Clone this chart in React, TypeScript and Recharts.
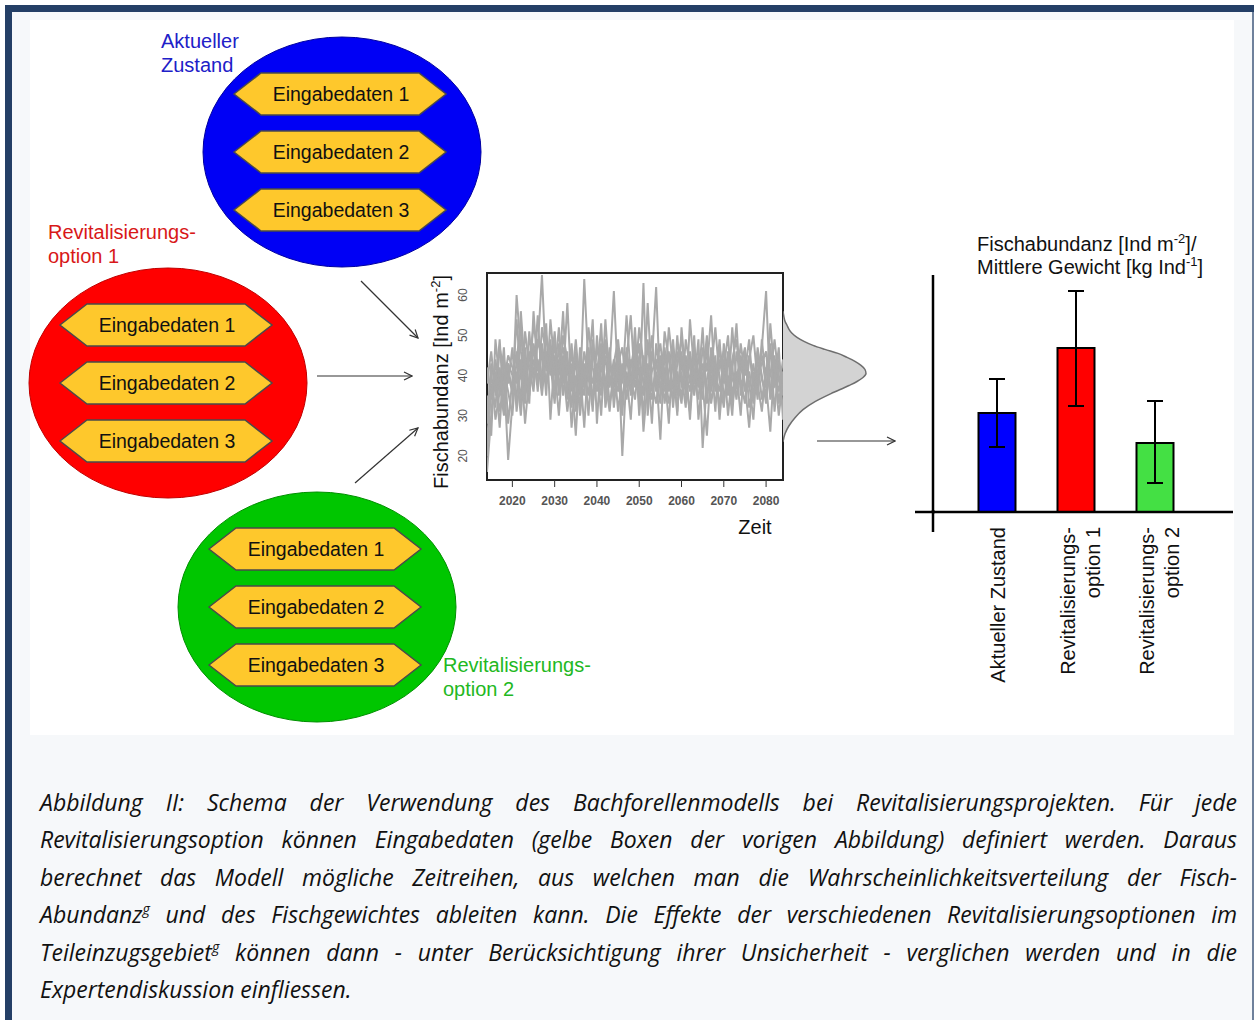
import React from "react"
import {
  Area,
  AreaChart,
  Bar,
  BarChart,
  Cell,
  ErrorBar,
  Line,
  LineChart,
  ReferenceArea,
  XAxis,
  YAxis,
} from "recharts"

// simulated time series (yearly)
const years = [
  2014, 2015, 2016, 2017, 2018, 2019, 2020, 2021, 2022, 2023,
  2024, 2025, 2026, 2027, 2028, 2029, 2030, 2031, 2032, 2033,
  2034, 2035, 2036, 2037, 2038, 2039, 2040, 2041, 2042, 2043,
  2044, 2045, 2046, 2047, 2048, 2049, 2050, 2051, 2052, 2053,
  2054, 2055, 2056, 2057, 2058, 2059, 2060, 2061, 2062, 2063,
  2064, 2065, 2066, 2067, 2068, 2069, 2070, 2071, 2072, 2073,
  2074, 2075, 2076, 2077, 2078, 2079, 2080, 2081, 2082, 2083,
  2084,
]
const yearTicks = [2020, 2030, 2040, 2050, 2060, 2070, 2080]
const abundanceTicks = [20, 30, 40, 50, 60]

const run1 = [
  16, 30, 44, 35, 41, 19, 33, 60, 46, 38,
  44, 52, 47, 65, 41, 49, 36, 44, 38, 46,
  27, 40, 35, 64, 42, 31, 50, 37, 45, 33,
  39, 47, 20, 41, 36, 52, 33, 63, 30, 44,
  62, 35, 41, 28, 47, 39, 33, 45, 38, 50,
  29, 40, 46, 36, 43, 31, 48, 37, 42, 34,
  45, 38, 27, 41, 36, 47, 61, 35, 42, 30,
  39,
]
const run2 = [
  28, 43, 37, 49, 31, 42, 36, 54, 39, 47,
  35, 48, 42, 39, 53, 29, 45, 40, 56, 34,
  43, 31, 47, 38, 41, 54, 28, 46, 35, 42,
  61, 38, 33, 44, 55, 37, 42, 30, 49, 36,
  41, 24, 46, 39, 34, 50, 37, 43, 29, 45,
  38, 52, 33, 47, 40, 36, 44, 30, 41, 53,
  35, 43, 38, 29, 46, 40, 33, 47, 37, 44,
  36,
]
const run3 = [
  20, 38, 32, 47, 41, 36, 30, 44, 53, 33,
  46, 40, 55, 37, 50, 43, 33, 48, 39, 58,
  36, 44, 30, 41, 35, 49, 38, 53, 32, 40,
  37, 45, 34, 40, 29, 46, 41, 35, 58, 38,
  33, 42, 47, 36, 44, 30, 52, 39, 46, 35,
  45, 38, 25, 43, 37, 49, 34, 40, 30, 46,
  39, 33, 44, 50, 38, 31, 42, 36, 45, 33,
  41,
]
const run4 = [
  35, 25, 49, 38, 30, 43, 40, 34, 56, 41,
  37, 44, 39, 48, 35, 54, 42, 30, 45, 36,
  48, 33, 42, 27, 45, 38, 43, 30, 49, 37,
  44, 31, 40, 46, 35, 42, 48, 26, 39, 50,
  36, 45, 33, 41, 49, 35, 43, 38, 31, 47,
  40, 34, 48, 38, 45, 29, 42, 50, 35, 41,
  30, 46, 37, 43, 34, 49, 38, 26, 44, 40,
  35,
]
const run5 = [
  30, 41, 29, 36, 47, 28, 39, 46, 33, 51,
  42, 36, 49, 44, 38, 47, 40, 52, 35, 43,
  32, 46, 39, 35, 52, 42, 36, 45, 39, 31,
  43, 49, 38, 55, 40, 34, 45, 38, 43, 28,
  48, 40, 36, 52, 42, 31, 46, 35, 44, 39,
  34, 47, 41, 55, 36, 44, 38, 46, 33, 40,
  43, 36, 41, 33, 47, 39, 35, 53, 40, 36,
  44,
]
const run6 = [
  42, 34, 40, 27, 44, 38, 47, 31, 42, 36,
  51, 38, 44, 35, 46, 40, 51, 37, 42, 31,
  40, 25, 44, 37, 47, 33, 41, 48, 36, 44,
  35, 41, 30, 47, 38, 44, 36, 42, 33, 46,
  39, 33, 51, 44, 37, 41, 34, 49, 42, 38,
  49, 22, 39, 45, 31, 47, 40, 35, 52, 38,
  42, 47, 32, 38, 44, 34, 41, 48, 31, 43,
  38,
]
const run7 = [
  38, 46, 35, 42, 33, 40, 36, 41, 30, 44,
  33, 56, 41, 46, 38, 45, 37, 43, 47, 40,
  45, 38, 33, 43, 30, 46, 40, 35, 54, 38,
  41, 36, 43, 34, 44, 39, 52, 43, 36, 41,
  44, 37, 42, 33, 38, 46, 40, 32, 54, 41,
  37, 43, 35, 41, 52, 39, 32, 44, 39, 37,
  48, 40, 45, 39, 41, 45, 37, 40, 49, 39,
  32,
]
const run8 = [
  24, 36, 41, 31, 38, 45, 42, 38, 44, 28,
  40, 47, 36, 52, 45, 41, 48, 35, 50, 44,
  38, 49, 36, 46, 39, 35, 47, 42, 37, 47,
  32, 43, 47, 37, 42, 48, 30, 45, 40, 34,
  42, 48, 38, 46, 32, 43, 49, 41, 36, 44,
  41, 39, 50, 33, 40, 42, 46, 37, 44, 49,
  37, 41, 49, 35, 40, 43, 46, 34, 38, 47,
  29,
]
const runs = [run1, run2, run3, run4, run5, run6, run7, run8]

// distribution of the abundance
const densityLevels = [23.5, 25, 26, 27, 28, 29, 30, 31, 32, 33, 34, 35, 36, 37, 38, 39, 40, 41, 42, 44, 46, 48, 50, 52, 54, 56]
const densityWidths = [0, 1, 2, 4, 6, 9, 14, 21, 30, 42, 55, 64, 72, 78, 82, 83, 80, 74, 66, 48, 32, 20, 12, 6, 2, 0]

// comparison of the options
const barCategories = ["Aktueller Zustand", "Revitalisierungs- option 1", "Revitalisierungs- option 2"]
const barCategoryLines = [["Aktueller Zustand"], ["Revitalisierungs-", "option 1"], ["Revitalisierungs-", "option 2"]]
const barMeans = [9.9, 16.4, 6.9]
const barErrLow = [3.4, 5.8, 4.0]
const barErrHigh = [3.4, 5.7, 4.2]
const barColors = ["#0000ff", "#ff0000", "#44e044"]

const hexLabels = ["Eingabedaten 1", "Eingabedaten 2", "Eingabedaten 3"]

const timeRows = years.map((year, i) => {
  const row: Record<string, number> = { year }
  runs.forEach((r, k) => {
    row[`run${k + 1}`] = r[i]
  })
  return row
})
const densityRows = densityLevels.map((v, i) => ({ v, w: densityWidths[i] }))
const barRows = barCategories.map((name, i) => ({
  name,
  value: barMeans[i],
  err: [barErrLow[i], barErrHigh[i]],
}))

const ARIAL = "'Liberation Sans', Arial, sans-serif"

const options = [
  { cx: 342, cy: 152, fill: "#0000f5", edge: "#0000a0", name: ["Aktueller", "Zustand"], color: "#2020c8", lx: 161, ly: 48 },
  { cx: 168, cy: 383, fill: "#ff0000", edge: "#c00000", name: ["Revitalisierungs-", "option 1"], color: "#d81818", lx: 48, ly: 239 },
  { cx: 317, cy: 607, fill: "#00c600", edge: "#009000", name: ["Revitalisierungs-", "option 2"], color: "#22b822", lx: 443, ly: 672 },
]

const Hexagon = ({ cx, cy, label }: { cx: number; cy: number; label: string }) => {
  const w = 106
  const h = 21
  const k = 27
  const pts = [
    [cx - w, cy],
    [cx - w + k, cy - h],
    [cx + w - k, cy - h],
    [cx + w, cy],
    [cx + w - k, cy + h],
    [cx - w + k, cy + h],
  ]
    .map((p) => p.join(","))
    .join(" ")
  return (
    <g>
      <polygon points={pts} fill="#fec82c" stroke="#4a4a4a" strokeWidth={1.5} />
      <text x={cx + 1} y={cy + 7} textAnchor="middle" fontSize={19.5} fontFamily={ARIAL} fill="#111">
        {label}
      </text>
    </g>
  )
}

const Diagram = () => (
  <svg width={1254} height={1020} style={{ position: "absolute", left: 0, top: 0 }}>
    <defs>
      <marker id="head" markerWidth={10} markerHeight={10} refX={9} refY={5} orient="auto" markerUnits="userSpaceOnUse">
        <path d="M1,1 L9,5 L1,9" fill="none" stroke="#333" strokeWidth={1.2} />
      </marker>
    </defs>
    {options.map((o, i) => (
      <g key={i}>
        <ellipse cx={o.cx} cy={o.cy} rx={139} ry={115} fill={o.fill} stroke={o.edge} strokeWidth={1} />
        {hexLabels.map((l, j) => (
          <Hexagon key={l} cx={o.cx - 2} cy={o.cy + (j - 1) * 58} label={l} />
        ))}
        {o.name.map((t, j) => (
          <text key={t} x={o.lx} y={o.ly + j * 24} fontSize={20} fontFamily={ARIAL} fill={o.color}>
            {t}
          </text>
        ))}
      </g>
    ))}
    <g stroke="#333" strokeWidth={1.2}>
      <line x1={361} y1={281} x2={418} y2={338} markerEnd="url(#head)" />
      <line x1={317} y1={376} x2={412} y2={376} markerEnd="url(#head)" />
      <line x1={355} y1={483} x2={418} y2={428} markerEnd="url(#head)" />
      <line x1={817} y1={441} x2={895} y2={441} markerEnd="url(#head)" />
    </g>
    <text
      transform="translate(448,382) rotate(-90)"
      textAnchor="middle"
      fontSize={20}
      fontFamily={ARIAL}
      fill="#111"
    >
      Fischabundanz [Ind m<tspan dy={-8} fontSize={13}>-2</tspan>
      <tspan dy={8}>]</tspan>
    </text>
    <text x={755} y={534} textAnchor="middle" fontSize={20} fontFamily={ARIAL} fill="#111">
      Zeit
    </text>
    <text x={977} y={251} fontSize={20} fontFamily={ARIAL} fill="#111">
      Fischabundanz [Ind m<tspan dy={-8} fontSize={13}>-2</tspan>
      <tspan dy={8}>]/</tspan>
    </text>
    <text x={977} y={274} fontSize={20} fontFamily={ARIAL} fill="#111">
      Mittlere Gewicht [kg Ind<tspan dy={-8} fontSize={13}>-1</tspan>
      <tspan dy={8}>]</tspan>
    </text>
    <line x1={933} y1={510} x2={933} y2={532} stroke="#000" strokeWidth={2.5} />
    <line x1={915} y1={512} x2={935} y2={512} stroke="#000" strokeWidth={2.5} />
  </svg>
)

// chart-local coordinates (time series chart sits at left 420)
const AbundanceTick = (props: any) => {
  const { y, payload } = props
  return (
    <text
      transform={`translate(47,${y}) rotate(-90)`}
      textAnchor="middle"
      fontSize={12}
      fontFamily={ARIAL}
      fill="#555"
      x={0}
      y={0}
    >
      {payload.value}
    </text>
  )
}

// chart-local coordinates (bar chart sits at top 265)
const CategoryTick = (props: any) => {
  const { x, payload, index } = props
  const idx = typeof index === "number" ? index : barCategories.indexOf(payload.value)
  const lines = barCategoryLines[idx] || [payload.value]
  const offsets = lines.length === 1 ? [8] : [-1, 24]
  return (
    <g transform={`translate(${x},262) rotate(-90)`}>
      {lines.map((l, i) => (
        <text key={l} x={0} y={offsets[i]} textAnchor="end" fontSize={20} fontFamily={ARIAL} fill="#111">
          {l}
        </text>
      ))}
    </g>
  )
}

const TimeSeries = () => (
  <div style={{ position: "absolute", left: 420, top: 262 }}>
    <LineChart width={380} height={285} data={timeRows} margin={{ top: 11, right: 17, bottom: 37, left: 0 }}>
      <XAxis
        dataKey="year"
        type="number"
        domain={[2014, 2084]}
        ticks={yearTicks}
        axisLine={false}
        tickLine={{ stroke: "#333" }}
        tickSize={7}
        tickMargin={9}
        height={30}
        tick={{ fontSize: 12, fontWeight: "bold", fill: "#555", fontFamily: ARIAL }}
        allowDataOverflow
      />
      <YAxis
        type="number"
        domain={[14, 65.5]}
        ticks={abundanceTicks}
        width={67}
        axisLine={false}
        tickLine={false}
        tick={<AbundanceTick />}
        allowDataOverflow
      />
      {runs.map((_, k) => (
        <Line
          key={k}
          dataKey={`run${k + 1}`}
          stroke="#a9a9a9"
          strokeWidth={2}
          dot={false}
          isAnimationActive={false}
        />
      ))}
      <ReferenceArea x1={2014} x2={2084} y1={14} y2={65.5} fill="none" stroke="#222" strokeWidth={2} ifOverflow="visible" />
    </LineChart>
  </div>
)

const Density = () => (
  <div style={{ position: "absolute", left: 783, top: 273 }}>
    <AreaChart layout="vertical" width={100} height={207} data={densityRows} margin={{ top: 0, right: 0, bottom: 0, left: 0 }}>
      <XAxis type="number" domain={[0, 100]} hide />
      <YAxis type="number" dataKey="v" domain={[14, 65.5]} hide />
      <Area dataKey="w" type="monotone" fill="#d3d3d3" fillOpacity={1} stroke="#6e6e6e" strokeWidth={1.5} isAnimationActive={false} />
    </AreaChart>
  </div>
)

const Comparison = () => (
  <div style={{ position: "absolute", left: 900, top: 265 }}>
    <BarChart width={340} height={430} data={barRows} margin={{ top: 10, right: 7, bottom: 8, left: 32 }}>
      <XAxis
        dataKey="name"
        padding={{ left: 24.5, right: 38.5 }}
        axisLine={{ stroke: "#000", strokeWidth: 2.5 }}
        tickLine={false}
        height={175}
        interval={0}
        tick={<CategoryTick />}
      />
      <YAxis domain={[0, 23.7]} width={1} tick={false} tickLine={false} axisLine={{ stroke: "#000", strokeWidth: 2.5 }} />
      <Bar dataKey="value" barSize={37} stroke="#000" strokeWidth={2} isAnimationActive={false}>
        {barRows.map((_, i) => (
          <Cell key={i} fill={barColors[i]} />
        ))}
        <ErrorBar dataKey="err" width={8} stroke="#000" strokeWidth={2} direction="y" />
      </Bar>
    </BarChart>
  </div>
)

const captionLines = [
  "Abbildung II: Schema der Verwendung des Bachforellenmodells bei Revitalisierungsprojekten. Für jede",
  "Revitalisierungsoption können Eingabedaten (gelbe Boxen der vorigen Abbildung) definiert werden. Daraus",
  "berechnet das Modell mögliche Zeitreihen, aus welchen man die Wahrscheinlichkeitsverteilung der Fisch-",
]

const Caption = () => {
  const lineStyle: React.CSSProperties = {
    height: 37.4,
    lineHeight: "37.4px",
    textAlign: "justify",
    textAlignLast: "justify",
    whiteSpace: "nowrap",
  }
  const sup = { fontSize: "0.62em", verticalAlign: "0.6em", lineHeight: 0 }
  return (
    <div
      style={{
        position: "absolute",
        left: 40,
        top: 784,
        width: 1197,
        fontFamily: "'Open Sans', sans-serif",
        fontStyle: "italic",
        fontSize: 23,
        color: "#111",
      }}
    >
      {captionLines.map((l) => (
        <div key={l} style={lineStyle}>
          {l}
        </div>
      ))}
      <div style={lineStyle}>
        Abundanz<span style={sup}>g</span> und des Fischgewichtes ableiten kann. Die Effekte der verschiedenen Revitalisierungsoptionen im
      </div>
      <div style={lineStyle}>
        Teileinzugsgebiet<span style={sup}>g</span> können dann - unter Berücksichtigung ihrer Unsicherheit - verglichen werden und in die
      </div>
      <div style={{ ...lineStyle, textAlign: "left", textAlignLast: "left" }}>Expertendiskussion einfliessen.</div>
    </div>
  )
}

export default function App() {
  return (
    <div style={{ position: "absolute", left: 0, top: 0, width: 1254, height: 1020, background: "#fff", overflow: "hidden" }}>
      <div style={{ position: "absolute", left: 5, top: 5, width: 1249, height: 1015, background: "#243f66" }} />
      <div style={{ position: "absolute", left: 12, top: 12, width: 1240, height: 1008, background: "#f6f8fa" }} />
      <div style={{ position: "absolute", left: 1252, top: 12, width: 2, height: 1008, background: "#6f819c" }} />
      <div style={{ position: "absolute", left: 30, top: 20, width: 1204, height: 715, background: "#fff" }} />
      <Diagram />
      <TimeSeries />
      <Density />
      <Comparison />
      <Caption />
    </div>
  )
}
